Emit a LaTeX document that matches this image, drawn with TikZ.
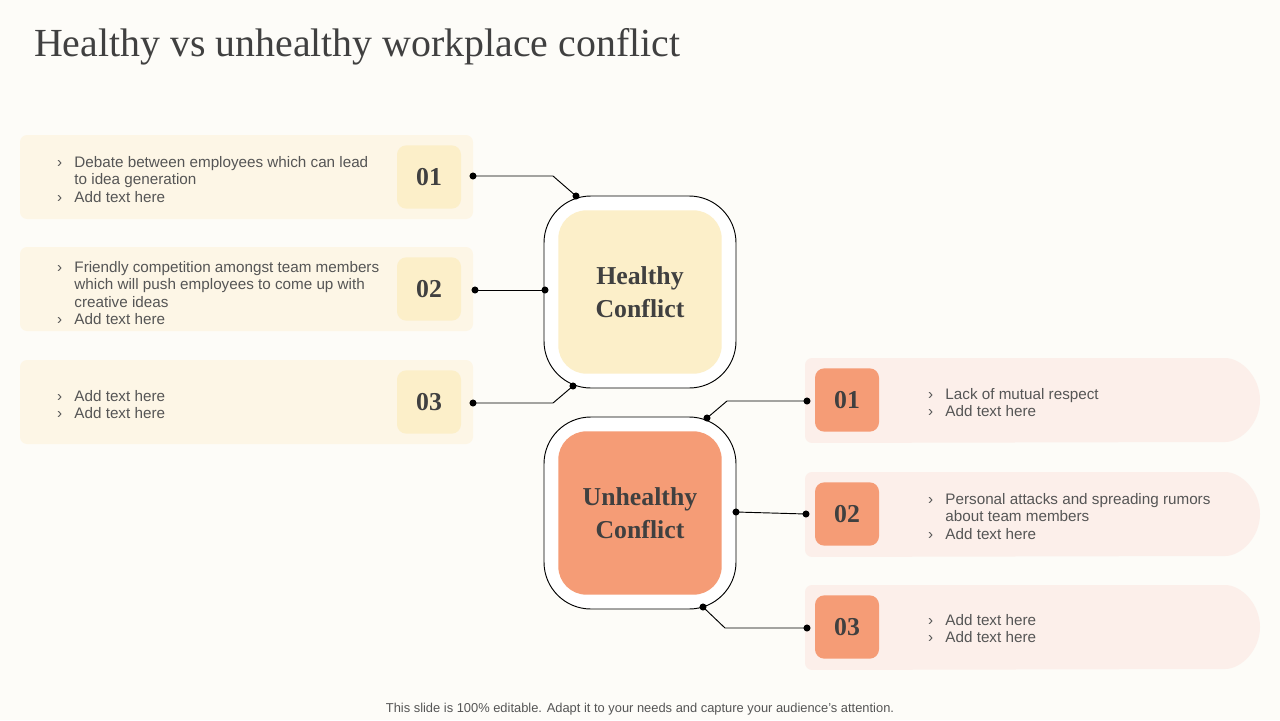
\documentclass[tikz,border=0pt]{standalone}
\usepackage{fontspec}
\setmainfont{Liberation Serif}
\setsansfont{Liberation Sans}
\definecolor{pagebg}{HTML}{FDFCF8}
\definecolor{creampanel}{HTML}{FDF6E6}
\definecolor{creambox}{HTML}{FCEFC9}
\definecolor{pinkpanel}{HTML}{FCEFEA}
\definecolor{salmonbox}{HTML}{F59C76}
\definecolor{inktext}{HTML}{404040}
\definecolor{bodytext}{HTML}{555555}
\tikzset{
    numbox/.style={rounded corners=8pt, minimum width=1.92cm, minimum height=1.9cm, font=\bfseries\fontsize{22}{22}\selectfont, text=inktext},
    bullettext/.style={anchor=north west, align=left, font=\sffamily\fontsize{13}{15}\selectfont, text=bodytext},
    link/.style={line width=0.8pt},
    dot/.style={circle, fill=black, inner sep=0pt, minimum size=6pt}
}
\newcommand{\bul}{\makebox[0.52cm][l]{›}}
\begin{document}
\begin{tikzpicture}[x=0.03cm, y=-0.03cm]
    \useasboundingbox (0,0) rectangle (1280,720);
    \fill[pagebg] (0,0) rectangle (1280,720);
    \node[anchor=west, font=\fontsize{34}{34}\selectfont, text=inktext] (title) at (30,47) {Healthy vs unhealthy workplace conflict};

    % left panels
    \foreach \y/\n in {135/1, 247/2, 360/3} {
        \fill[creampanel, rounded corners=6pt] (20,\y) rectangle (473,\y+84);
        \node[numbox, fill=creambox] (L\n) at (429,\y+42) {0\n};
    }
    \node[bullettext] (lt1) at (53,152) {\bul Debate between employees which can lead\\ \phantom{\bul}to idea generation\\ \bul Add text here};
    \node[bullettext] (lt2) at (53,257) {\bul Friendly competition amongst team members\\ \phantom{\bul}which will push employees to come up with\\ \phantom{\bul}creative ideas\\ \bul Add text here};
    \node[bullettext] (lt3) at (53,386) {\bul Add text here\\ \bul Add text here};

    % right panels
    \foreach \y/\n in {358/1, 472/2, 585/3} {
        \fill[pinkpanel, rounded corners=6pt] (805,\y) -- (1218,\y) arc[start angle=90, end angle=-90, radius=42*0.03cm] -- (805,\y+85) -- cycle;
        \node[numbox, fill=salmonbox] (R\n) at (847,\y+42) {0\n};
    }
    \node[bullettext] (rt1) at (924,384) {\bul Lack of mutual respect\\ \bul Add text here};
    \node[bullettext] (rt2) at (924,489) {\bul Personal attacks and spreading rumors\\ \phantom{\bul}about team members\\ \bul Add text here};
    \node[bullettext] (rt3) at (924,610) {\bul Add text here\\ \bul Add text here};

    % centre boxes
    \draw[link, fill=white, rounded corners=40pt] (544,196) rectangle (736,388);
    \node[fill=creambox, rounded corners=24pt, minimum width=4.9cm, minimum height=4.9cm, align=center, font=\bfseries\fontsize{22}{28}\selectfont, text=inktext] (healthy) at (640,292) {Healthy\\Conflict};
    \draw[link, fill=white, rounded corners=40pt] (544,417) rectangle (736,609);
    \node[fill=salmonbox, rounded corners=24pt, minimum width=4.9cm, minimum height=4.9cm, align=center, font=\bfseries\fontsize{22}{28}\selectfont, text=inktext] (unhealthy) at (640,513) {Unhealthy\\Conflict};

    % connectors
    \coordinate (a1) at (473,176); \coordinate (b1) at (576,196);
    \coordinate (a2) at (475,290); \coordinate (b2) at (545,290);
    \coordinate (a3) at (473,403); \coordinate (b3) at (573,386);
    \coordinate (c1) at (707,418); \coordinate (d1) at (807,401);
    \coordinate (c2) at (736,512); \coordinate (d2) at (806,514);
    \coordinate (c3) at (703,607); \coordinate (d3) at (807,628);
    \draw[link] (a1) -- (553,176) -- (b1);
    \draw[link] (a2) -- (b2);
    \draw[link] (a3) -- (553,403) -- (b3);
    \draw[link] (c1) -- (727,401) -- (d1);
    \draw[link] (c2) -- (d2);
    \draw[link] (c3) -- (725,628) -- (d3);
    \foreach \p in {a1,b1,a2,b2,a3,b3,c1,d1,c2,d2,c3,d3}
        \node[dot] at (\p) {};

    \node[font=\sffamily\fontsize{11}{11}\selectfont, text=bodytext] (footer) at (640,709) {This slide is 100\% editable. Adapt it to your needs and capture your audience's attention.};
\end{tikzpicture}
\end{document}
